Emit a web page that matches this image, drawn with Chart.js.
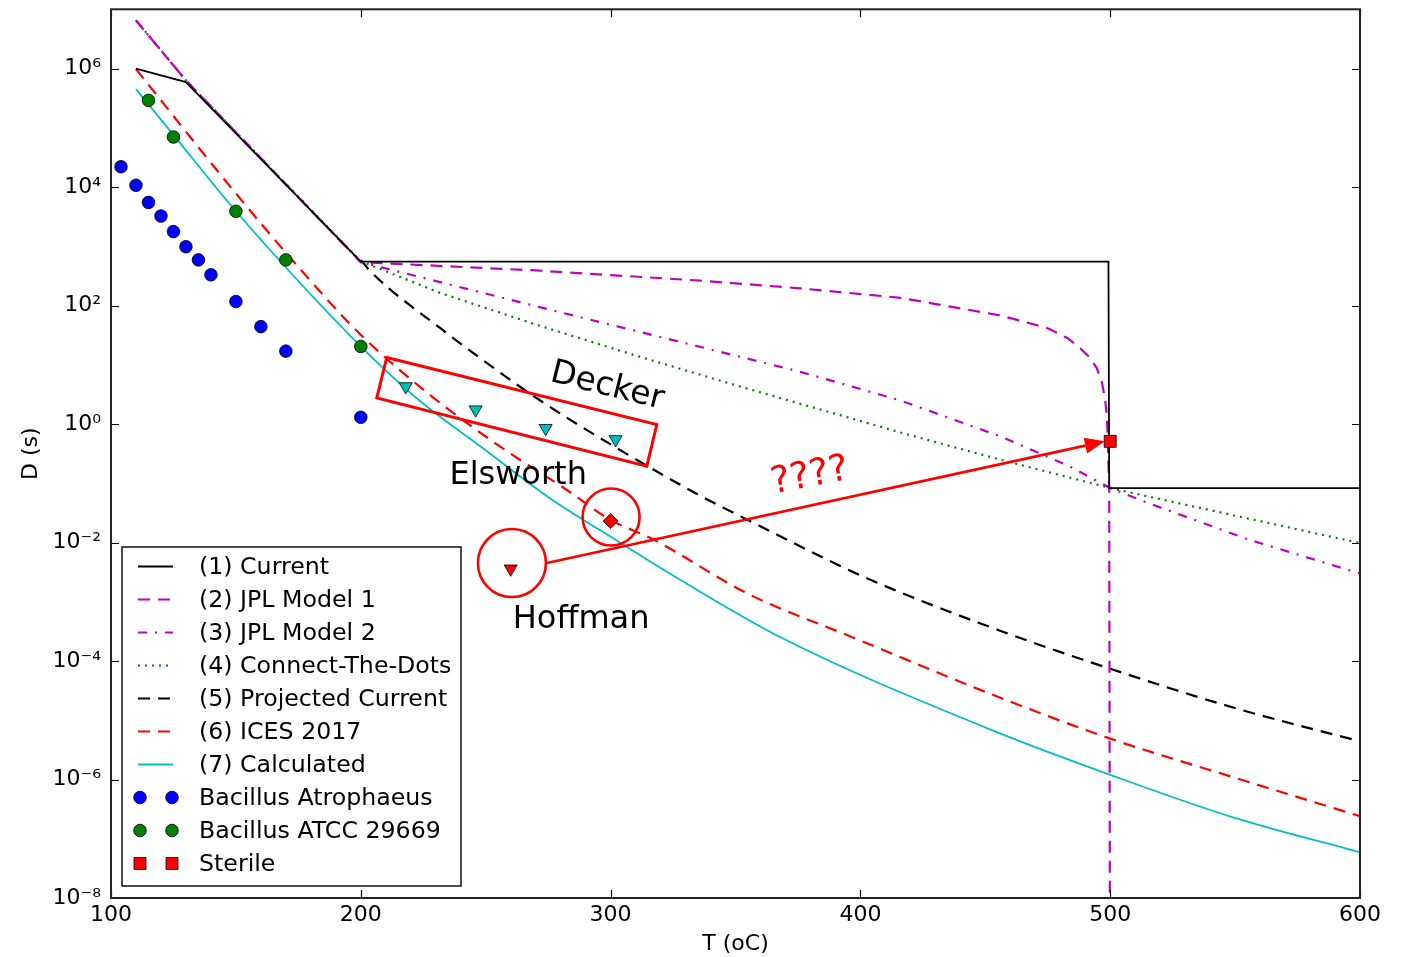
<!DOCTYPE html>
<html lang="en">
<head>
<meta charset="UTF-8">
<title>D value vs temperature</title>
<style>
    body { margin: 0; background: #fff; }
    #wrap { width: 1404px; height: 957px; }
</style>
<script src="https://cdn.jsdelivr.net/npm/chart.js"></script>
</head>
<body>
<div id="wrap"><canvas id="chart" width="1404" height="957"></canvas></div>
<script>
// values: T in oC, D in seconds
const currentT = [110, 130, 200, 499.3, 499.6, 600];
const currentD = [1.0e6, 5.9e5, 550, 550, 0.083, 0.083];

const jpl1T = [110, 130, 200, 272, 336, 376, 416, 456, 465, 475, 483, 488, 492, 494.6, 496.6, 497.9, 498.6, 498.9, 499.6, 499.9];
const jpl1D = [6.5e6, 6.3e5, 540, 387, 263, 195, 135, 68, 54, 41.5, 28, 19, 13, 8.8, 5.2, 2.75, 1.45, 0.76, 0.083, 1e-9];

const jpl2T = [110, 130, 200, 272, 336, 376, 416, 456, 483, 500, 516, 556, 600];
const jpl2D = [6.5e6, 6.3e5, 540, 93, 20, 7.6, 2.5, 0.62, 0.2, 0.083, 0.045, 0.011, 0.003];

const dotsT = [110, 130, 200, 232, 272, 312, 351, 416, 456, 500, 556, 600];
const dotsD = [6.5e6, 6.3e5, 560, 162, 45, 13.5, 4.4, 0.72, 0.25, 0.083, 0.025, 0.0098];

const projT = [200, 204, 232, 270.5, 302.6, 334.6, 355.8, 402.6, 455.9, 500, 549.2, 600];
const projD = [590, 373, 41, 2.72, 0.39, 0.066, 0.023, 0.0025, 3.25e-4, 7.4e-5, 1.64e-5, 4.4e-6];

const icesT = [110, 150, 176, 200, 229, 256, 282.5, 300, 316, 356, 396, 456, 500, 549, 600];
const icesD = [9.8e5, 7800, 400, 32, 2.8, 0.41, 0.077, 0.024, 0.0119, 0.0013, 2.6e-4, 2.4e-5, 4.9e-6, 1.1e-6, 2.4e-7];

const calcT = [110, 125, 150, 200, 222.5, 248.9, 275.7, 302.6, 329, 369, 455.9, 500, 549.2, 600];
const calcD = [4.5e5, 7.6e4, 3900, 20.4, 2.7, 0.39, 0.056, 0.0107, 0.0022, 2.4e-4, 6e-6, 1.2e-6, 2.3e-7, 5.9e-8];

const atroT = [104, 110, 115, 120, 125, 130, 135, 140, 150, 160, 170, 200];
const atroD = [2.2e4, 1.07e4, 5500, 3240, 1770, 985, 589, 330, 117, 44, 17, 1.3];

const atccT = [115, 125, 150, 170, 200];
const atccD = [2.9e5, 7e4, 3900, 589, 20.4];

const sterileT = [500];
const sterileD = [0.51];

const deckerT = [218, 246, 274, 302];
const deckerD = [4.3, 1.75, 0.85, 0.55];

const elsworthT = [300];
const elsworthD = [0.023];

const hoffmanT = [260];
const hoffmanD = [0.0036];

const xTicks = [100, 200, 300, 400, 500, 600];
const yTicks = [1e-8, 1e-6, 1e-4, 1e-2, 1, 1e2, 1e4, 1e6];

// annotation overlay, in data coordinates
const annot = {
    box: [[210.4, 13.3], [318.5, 0.98], [314.5, 0.195], [206.4, 2.75]],
    circles: [{ c: [300.2, 0.027], r: 28.5 }, { c: [260.5, 0.0045], r: 34 }],
    arrow: { from: [274.5, 0.0045], to: [497.9, 0.51] },
    texts: [
        { s: 'Decker', at: [298.6, 4.3], rot: 14, color: '#000', size: 33 },
        { s: 'Elsworth', at: [263, 0.132], rot: 0, color: '#000', size: 32 },
        { s: 'Hoffman', at: [288.2, 5e-4], rot: 0, color: '#000', size: 32 },
        { s: '????', at: [379.8, 0.13], rot: -11, color: '#ff0000', size: 37 }
    ]
};

const FONT = '"DejaVu Sans", Verdana, sans-serif';
Chart.defaults.font.family = FONT;
Chart.defaults.color = '#000';

function pts(xs, ys) {
    return xs.map((x, i) => ({ x: x, y: ys[i] }));
}

function lineSet(label, xs, ys, color, dash, smooth) {
    return {
        label: label, data: pts(xs, ys), showLine: true,
        borderColor: color, borderDash: dash, borderWidth: dash.length ? 2.2 : 1.8,
        pointRadius: 0, pointHoverRadius: 0,
        cubicInterpolationMode: smooth ? 'monotone' : 'default', tension: 0,
        inLegend: true, order: 5
    };
}

function markSet(label, xs, ys, color, style, r, rot, inLegend) {
    return {
        label: label, data: pts(xs, ys), showLine: false,
        pointStyle: style, pointRadius: r, pointHoverRadius: r, pointRotation: rot,
        backgroundColor: color, borderColor: '#000', borderWidth: 0.8,
        inLegend: inLegend, order: 1
    };
}

const datasets = [
    lineSet('(1) Current', currentT, currentD, '#000000', [], false),
    lineSet('(2) JPL Model 1', jpl1T, jpl1D, '#bf00bf', [12, 8], false),
    lineSet('(3) JPL Model 2', jpl2T, jpl2D, '#bf00bf', [9, 8, 2, 8], false),
    lineSet('(4) Connect-The-Dots', dotsT, dotsD, '#008000', [2, 5], false),
    lineSet('(5) Projected Current', projT, projD, '#000000', [12, 8], true),
    lineSet('(6) ICES 2017', icesT, icesD, '#ff0000', [12, 8], true),
    lineSet('(7) Calculated', calcT, calcD, '#00bfbf', [], true),
    markSet('Bacillus Atrophaeus', atroT, atroD, '#0000ff', 'circle', 6.3, 0, true),
    markSet('Bacillus ATCC 29669', atccT, atccD, '#008000', 'circle', 6.3, 0, true),
    markSet('Sterile', sterileT, sterileD, '#ff0000', 'rect', 8.5, 0, true),
    markSet('Decker', deckerT, deckerD, '#00bfbf', 'triangle', 7.5, 180, false),
    markSet('Elsworth', elsworthT, elsworthD, '#ff0000', 'rectRot', 7.5, 0, false),
    markSet('Hoffman', hoffmanT, hoffmanD, '#ff0000', 'triangle', 7.5, 180, false)
];

function sup(n) {
    const map = { '0': '⁰', '1': '¹', '2': '²', '3': '³', '4': '⁴', '5': '⁵', '6': '⁶', '7': '⁷', '8': '⁸', '9': '⁹', '-': '⁻' };
    return String(n).split('').map(c => map[c]).join('');
}

// frame with inward ticks, like the matplotlib axes box
const framePlugin = {
    id: 'frame',
    afterDatasetsDraw(chart) {
        const { ctx, chartArea: a, scales } = chart;
        ctx.save();
        ctx.strokeStyle = '#000';
        ctx.lineWidth = 1.2;
        ctx.beginPath();
        xTicks.forEach(v => {
            const px = Math.round(scales.x.getPixelForValue(v)) + 0.5;
            ctx.moveTo(px, a.bottom); ctx.lineTo(px, a.bottom - 8);
            ctx.moveTo(px, a.top); ctx.lineTo(px, a.top + 8);
        });
        yTicks.forEach(v => {
            const py = Math.round(scales.y.getPixelForValue(v)) + 0.5;
            ctx.moveTo(a.left, py); ctx.lineTo(a.left + 8, py);
            ctx.moveTo(a.right, py); ctx.lineTo(a.right - 8, py);
        });
        ctx.stroke();
        ctx.strokeStyle = '#222';
        ctx.lineWidth = 2;
        ctx.strokeRect(a.left, a.top, a.right - a.left, a.bottom - a.top);
        ctx.restore();
    }
};

// legend box in the lower left corner of the axes
const legendPlugin = {
    id: 'boxLegend',
    afterDraw(chart) {
        const { ctx, chartArea: a } = chart;
        const items = chart.data.datasets.filter(d => d.inLegend);
        const left = a.left + 11, top = a.bottom - 351;
        ctx.save();
        ctx.fillStyle = '#fff';
        ctx.fillRect(left, top, 339, 339);
        ctx.strokeStyle = '#111';
        ctx.lineWidth = 1.5;
        ctx.strokeRect(left, top, 339, 339);
        ctx.font = '23.7px ' + FONT;
        ctx.textBaseline = 'middle';
        items.forEach((d, i) => {
            const y = top + 19.5 + i * 33;
            if (d.showLine) {
                ctx.strokeStyle = d.borderColor;
                ctx.lineWidth = d.borderWidth;
                ctx.setLineDash(d.borderDash);
                ctx.beginPath();
                ctx.moveTo(left + 16, y); ctx.lineTo(left + 51, y);
                ctx.stroke();
                ctx.setLineDash([]);
            } else {
                [left + 18, left + 50].forEach(mx => {
                    ctx.fillStyle = d.backgroundColor;
                    ctx.strokeStyle = d.borderColor;
                    ctx.lineWidth = d.borderWidth;
                    Chart.helpers.drawPoint(ctx, { pointStyle: d.pointStyle, radius: d.pointRadius, rotation: d.pointRotation, borderWidth: d.borderWidth }, mx, y);
                });
            }
            ctx.fillStyle = '#000';
            ctx.fillText(d.label, left + 77, y + 1);
        });
        ctx.restore();
    }
};

// hand-drawn style annotations: box, circles, arrow and names
const annotPlugin = {
    id: 'annot',
    afterDraw(chart) {
        const { ctx, scales } = chart;
        const P = p => [scales.x.getPixelForValue(p[0]), scales.y.getPixelForValue(p[1])];
        ctx.save();
        ctx.strokeStyle = '#ff0000';
        ctx.fillStyle = '#ff0000';
        ctx.lineWidth = 3;
        ctx.beginPath();
        annot.box.forEach((p, i) => {
            const q = P(p);
            if (i === 0) ctx.moveTo(q[0], q[1]); else ctx.lineTo(q[0], q[1]);
        });
        ctx.closePath();
        ctx.stroke();

        ctx.lineWidth = 2.6;
        annot.circles.forEach(c => {
            const q = P(c.c);
            ctx.beginPath();
            ctx.arc(q[0], q[1], c.r, 0, Math.PI * 2);
            ctx.stroke();
        });

        const s = P(annot.arrow.from), t = P(annot.arrow.to);
        const ang = Math.atan2(t[1] - s[1], t[0] - s[0]);
        const hl = 20, hw = 8;
        const bx = t[0] - hl * Math.cos(ang), by = t[1] - hl * Math.sin(ang);
        ctx.beginPath();
        ctx.moveTo(s[0], s[1]); ctx.lineTo(bx, by);
        ctx.stroke();
        ctx.beginPath();
        ctx.moveTo(t[0], t[1]);
        ctx.lineTo(bx + hw * Math.sin(ang), by - hw * Math.cos(ang));
        ctx.lineTo(bx - hw * Math.sin(ang), by + hw * Math.cos(ang));
        ctx.closePath();
        ctx.fill();

        ctx.textAlign = 'center';
        ctx.textBaseline = 'middle';
        annot.texts.forEach(tx => {
            const q = P(tx.at);
            ctx.save();
            ctx.translate(q[0], q[1]);
            ctx.rotate(tx.rot * Math.PI / 180);
            ctx.font = tx.size + 'px ' + FONT;
            ctx.fillStyle = tx.color;
            ctx.fillText(tx.s, 0, 0);
            ctx.restore();
        });
        ctx.restore();
    }
};

new Chart(document.getElementById('chart'), {
    type: 'scatter',
    data: { datasets: datasets },
    plugins: [framePlugin, legendPlugin, annotPlugin],
    options: {
        responsive: false,
        animation: false,
        events: [],
        layout: { padding: { top: 7, right: 44, left: 0, bottom: 0 } },
        plugins: { legend: { display: false }, tooltip: { enabled: false } },
        scales: {
            x: {
                type: 'linear', min: 100, max: 600,
                afterFit: s => { s.height = 59; s.paddingLeft = 0; s.paddingRight = 0; },
                afterBuildTicks: s => { s.ticks = xTicks.map(v => ({ value: v })); },
                grid: { display: false, drawTicks: false },
                border: { display: false },
                ticks: { font: { size: 22 }, padding: 4, autoSkip: false, maxRotation: 0 },
                title: { display: true, text: 'T (oC)', font: { size: 22 }, padding: { top: 0, bottom: 0 } }
            },
            y: {
                type: 'logarithmic', min: 1e-8, max: 1e7,
                afterFit: s => { s.width = 111; s.paddingTop = 0; s.paddingBottom = 0; },
                afterBuildTicks: s => { s.ticks = yTicks.map(v => ({ value: v })); },
                grid: { display: false, drawTicks: false },
                border: { display: false },
                ticks: {
                    font: { size: 22 }, padding: 10, autoSkip: false,
                    callback: v => '10' + sup(Math.round(Math.log10(v)))
                },
                title: { display: true, text: 'D (s)', font: { size: 22 }, padding: { top: 18, bottom: 0 } }
            }
        }
    }
});
</script>
</body>
</html>
